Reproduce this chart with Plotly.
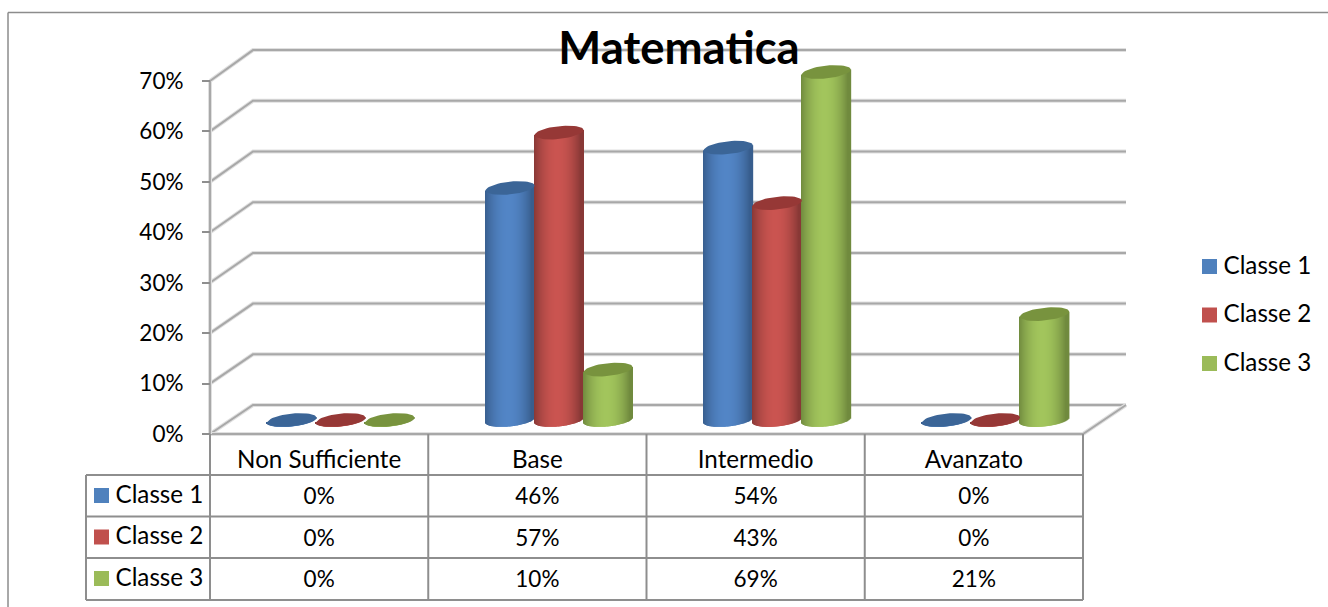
import math
import plotly.graph_objects as go

# ---------- data ----------
categories = ["Non Sufficiente", "Base", "Intermedio", "Avanzato"]
series_names = ["Classe 1", "Classe 2", "Classe 3"]
classe_1 = [0, 46, 54, 0]
classe_2 = [0, 57, 43, 0]
classe_3 = [0, 10, 69, 21]
axis_ticks = [0, 10, 20, 30, 40, 50, 60, 70]
title_text = "Matematica"

# ---------- styles ----------
values_by_series = [classe_1, classe_2, classe_3]
mid_colors = [(82, 133, 198), (202, 84, 80), (162, 197, 92)]
edge_colors = [(56, 94, 142), (136, 56, 54), (112, 138, 62)]
top_colors = ["#3B6597", "#963836", "#78933E"]
key_colors = ["#4F81BD", "#C0504D", "#9BBB59"]
FONT = "Lato"
TS = 22.5
WS = 24.2
W, H = 1328, 607

# axis scale: x=0 at 210px, one category = 218.25px; y=0 at 434px, 1% = 5.043px
X0, XU, Y0, YU = 210, 218.25, 434, 5.043
dx = lambda px: px / XU
dy = lambda px: px / YU
fx = lambda px: (px - X0) / XU
fy = lambda px: (Y0 - px) / YU
DEPTH_X, DEPTH_Y = dx(43), dy(29)
BACK_SCALE = 50.7 / 50.43
MID_X, MID_Y = dx(21.7), dy(14)
R, B, K = 24.5, 6.4, 2.5
STEP = 49
N = 49


def mix(a, b, s):
    return tuple(round(a[i] * (1 - s) + b[i] * s) for i in range(3))


fig = go.Figure()
shapes = []


def seg(points, color, width, layer="below"):
    path = "M " + " L ".join(f"{x:.4f},{y:.4f}" for x, y in points)
    shapes.append(dict(type="path", path=path, xref="x", yref="y", layer=layer,
                       line=dict(color=color, width=width)))


def soft(points):
    seg(points, "#E0E0E0", 4)
    seg(points, "#A8A8A8", 2)


n_cat = len(categories)
for v in axis_ticks:
    by = v * BACK_SCALE + DEPTH_Y
    soft([(0, v), (DEPTH_X, by), (n_cat + DEPTH_X, by)])
soft([(0, 0), (n_cat, 0), (n_cat + DEPTH_X, DEPTH_Y)])
soft([(0, 0), (0, axis_ticks[-1])])

# data table rules
row_edges = [475, 516.5, 558, 600]
for px in row_edges:
    seg([(fx(86), fy(px)), (n_cat, fy(px))], "#8E8E8E", 2)
seg([(fx(86), fy(row_edges[0])), (fx(86), fy(row_edges[-1]))], "#8E8E8E", 2)
for i in range(n_cat + 1):
    seg([(i, 0), (i, fy(row_edges[-1]))], "#8E8E8E", 2)

# outer chart frame
seg([(fx(8), fy(12.5)), (fx(W + 5), fy(12.5))], "#8C8C8C", 1.5)
seg([(fx(8), fy(12.5)), (fx(8), fy(H + 5))], "#8C8C8C", 1.5)

# cylinders: body as shaded bar strips, top as a filled ellipse
us = [-1 + (2 * i + 1) / N for i in range(N)]
for s, vals in enumerate(values_by_series):
    xs, bases, heights, colors = [], [], [], []
    ex, ey = [], []
    for c, v in enumerate(vals):
        cx = c + 0.5 + MID_X + dx((s - 1) * STEP)
        for u in us:
            tilt = dy(K * u)
            low = MID_Y + tilt - dy(B * math.sqrt(1 - u * u))
            top = v + MID_Y + tilt
            xs.append(cx + dx(R * u))
            bases.append(low)
            heights.append(top - low)
            shade = min(1, abs(u + 0.05) ** 2.0 * 1.1)
            colors.append("rgb(%d,%d,%d)" % mix(mid_colors[s], edge_colors[s], shade))
        for i in range(49):
            t = 2 * math.pi * i / 48
            ex.append(cx + dx(R * math.cos(t)))
            ey.append(v + MID_Y + dy(B * math.sin(t) + K * math.cos(t)))
        ex.append(None)
        ey.append(None)
    fig.add_trace(go.Bar(x=xs, y=heights, base=bases, width=dx(2 * R / N) * 1.7,
                         name=series_names[s], showlegend=False, hoverinfo="skip",
                         marker=dict(color=colors, line=dict(width=0))))
    fig.add_trace(go.Scatter(x=ex, y=ey, mode="lines", fill="toself", fillcolor=top_colors[s],
                             line=dict(width=0, color=top_colors[s]), showlegend=False,
                             hoverinfo="skip", name=series_names[s]))

# data table contents and keys, legend
row_mid = [495.5, 537, 578.5]
legend_mid = [266.5, 315, 363.5]
TEXT_DROP = 3
for s, vals in enumerate(values_by_series):
    fig.add_trace(go.Scatter(x=[c + 0.5 for c in range(n_cat)],
                             y=[fy(row_mid[s] + TEXT_DROP)] * n_cat,
                             mode="text", text=[f"{v}%" for v in vals], showlegend=False,
                             hoverinfo="skip", textposition="middle center",
                             textfont=dict(family=FONT, size=TS, color="#000")))
    for px_x, px_y in ((101.5, row_mid[s]), (1209.5, legend_mid[s])):
        fig.add_trace(go.Scatter(x=[fx(px_x)], y=[fy(px_y)], mode="markers",
                                 marker=dict(symbol="square", size=15, color=key_colors[s],
                                             line=dict(width=0)),
                                 showlegend=False, hoverinfo="skip", name=series_names[s]))
        fig.add_trace(go.Scatter(x=[fx(px_x + 14)], y=[fy(px_y + TEXT_DROP - 2)], mode="text",
                                 text=[series_names[s]], textposition="middle right",
                                 textfont=dict(family=FONT, size=WS, color="#000"),
                                 showlegend=False, hoverinfo="skip"))

fig.update_layout(
    width=W, height=H, margin=dict(l=0, r=0, t=0, b=0), autosize=False,
    paper_bgcolor="#FFFFFF", plot_bgcolor="#FFFFFF", barmode="overlay", showlegend=False,
    font=dict(family=FONT, size=TS, color="#000"),
    shapes=shapes,
    title=dict(text=title_text, x=679 / W, xanchor="center", y=1 - 48 / H, yanchor="middle",
               font=dict(family=FONT, size=45.5, color="#000", weight=700)),
    xaxis=dict(range=[fx(0), fx(W)], domain=[0, 1], anchor="free", position=(H - Y0) / H,
               tickmode="array", tickvals=[c + 0.5 for c in range(n_cat)], ticktext=categories,
               tickfont=dict(family=FONT, size=WS, color="#000"),
               showgrid=False, zeroline=False, showline=False, ticks="",
               ticklabelstandoff=9, fixedrange=True),
    yaxis=dict(range=[fy(H), fy(0)], domain=[0, 1], anchor="free", position=X0 / W,
               tickmode="array", tickvals=axis_ticks, ticktext=[f"{v}%" for v in axis_ticks],
               tickfont=dict(family=FONT, size=TS, color="#000"),
               showgrid=False, zeroline=False, showline=False, ticks="outside", ticklen=8,
               tickwidth=2, tickcolor="#8E8E8E", ticklabelstandoff=14, fixedrange=True),
)

fig.write_html("out.html", post_script="document.body.style.margin='0';document.body.style.overflow='hidden';",
               config={"displayModeBar": False})
